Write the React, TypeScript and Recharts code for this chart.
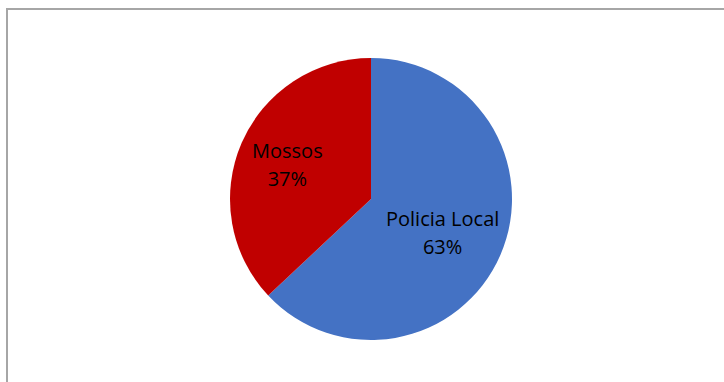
import { PieChart, Pie, Cell } from 'recharts';

const categories = ['Policia Local', 'Mossos'];
const shares = [63, 37];
const sliceColors = ['#4472C4', '#C00000'];

const data = categories.map((name, i) => ({ name, value: shares[i] }));

const RADIAN = Math.PI / 180;

function renderLabel(props: any) {
  const { cx, cy, midAngle, outerRadius, name, percent } = props;
  const r = outerRadius * 0.6;
  const x = cx + r * Math.cos(-midAngle * RADIAN) - 6;
  const y = cy + r * Math.sin(-midAngle * RADIAN);
  return (
    <text
      x={x}
      y={y}
      fill="#000000"
      textAnchor="middle"
      fontFamily="'Open Sans', sans-serif"
      fontSize={20}
    >
      <tspan x={x} dy={-7}>{name}</tspan>
      <tspan x={x} dy={28}>{`${Math.round(percent * 100)}%`}</tspan>
    </text>
  );
}

export default function App() {
  return (
    <div style={{ position: 'absolute', left: 0, top: 0, width: 724, height: 382, background: '#fff', overflow: 'hidden' }}>
      <div
        style={{
          position: 'absolute',
          left: 6,
          top: 8,
          width: 740,
          height: 400,
          borderLeft: '2px solid #a6a6a6',
          borderTop: '2px solid #a6a6a6',
        }}
      />
      <PieChart
        width={724}
        height={382}
        margin={{ top: 0, right: 0, bottom: 0, left: 0 }}
        style={{ position: 'absolute', left: 0, top: 0 }}
      >
        <Pie
          data={data}
          dataKey="value"
          nameKey="name"
          cx={371}
          cy={199}
          outerRadius={141}
          startAngle={90}
          endAngle={-270}
          stroke="none"
          label={renderLabel}
          labelLine={false}
          isAnimationActive={false}
        >
          {data.map((d, i) => (
            <Cell key={d.name} fill={sliceColors[i]} />
          ))}
        </Pie>
      </PieChart>
    </div>
  );
}
